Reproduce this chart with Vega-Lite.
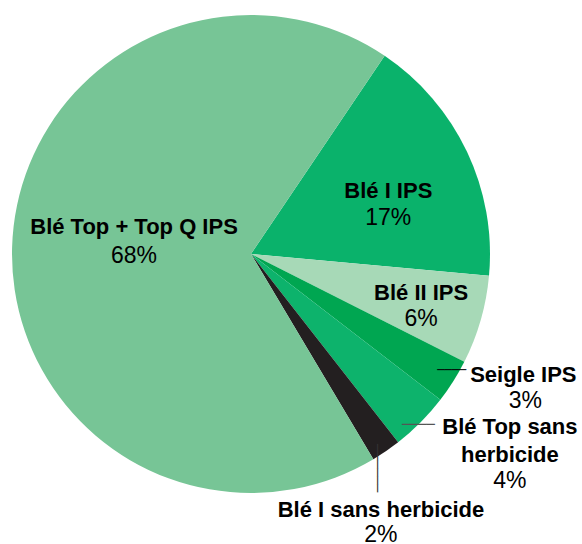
{
  "$schema": "https://vega.github.io/schema/vega-lite/v6.json",
  "width": 502,
  "height": 508,
  "autosize": "none",
  "padding": {"left": 0, "top": 0, "right": 80, "bottom": 36},
  "background": "#ffffff",
  "config": {"view": {"stroke": null}},
  "data": {
    "values": [
      {"rank": 1, "name": "Blé I IPS", "label": "Blé I IPS", "pct": 17, "pctLabel": "17%"},
      {"rank": 2, "name": "Blé II IPS", "label": "Blé II IPS", "pct": 6, "pctLabel": "6%"},
      {"rank": 3, "name": "Seigle IPS", "label": "Seigle IPS", "pct": 3, "pctLabel": "3%"},
      {"rank": 4, "name": "Blé Top sans herbicide", "label": ["Blé Top sans", "herbicide"], "pct": 4, "pctLabel": "4%"},
      {"rank": 5, "name": "Blé I sans herbicide", "label": "Blé I sans herbicide", "pct": 2, "pctLabel": "2%"},
      {"rank": 6, "name": "Blé Top + Top Q IPS", "label": "Blé Top + Top Q IPS", "pct": 68, "pctLabel": "68%"}
    ]
  },
  "encoding": {
    "theta": {"field": "pct", "type": "quantitative", "stack": true, "scale": {"range": [0.5934, 6.8766]}},
    "order": {"field": "rank", "type": "quantitative"}
  },
  "layer": [
    {
      "mark": {"type": "arc", "radius": 239},
      "encoding": {
        "color": {
          "field": "name", "type": "nominal", "legend": null,
          "scale": {
            "domain": ["Blé I IPS", "Blé II IPS", "Seigle IPS", "Blé Top sans herbicide", "Blé I sans herbicide", "Blé Top + Top Q IPS"],
            "range": ["#0AB26B", "#A7D9B7", "#00A651", "#0DB36C", "#231F20", "#77C596"]
          }
        }
      }
    },
    {
      "mark": {"type": "text", "radius": 117, "dy": -17, "font": "Liberation Sans", "fontWeight": "bold", "fontSize": 22, "baseline": "alphabetic", "align": "center", "color": "#000000"},
      "encoding": {"text": {"condition": {"test": "datum.name === 'Blé Top + Top Q IPS'", "field": "label"}, "value": ""}}
    },
    {
      "mark": {"type": "text", "radius": 117, "dy": 12, "font": "Liberation Sans", "fontSize": 23, "baseline": "alphabetic", "align": "center", "color": "#000000"},
      "encoding": {"text": {"condition": {"test": "datum.name === 'Blé Top + Top Q IPS'", "field": "pctLabel"}, "value": ""}}
    },
    {
      "mark": {"type": "text", "radius": 152, "dy": 9, "font": "Liberation Sans", "fontWeight": "bold", "fontSize": 22, "baseline": "alphabetic", "align": "center", "color": "#000000"},
      "encoding": {"text": {"condition": {"test": "datum.name === 'Blé I IPS'", "field": "label"}, "value": ""}}
    },
    {
      "mark": {"type": "text", "radius": 152, "dy": 36, "font": "Liberation Sans", "fontSize": 23, "baseline": "alphabetic", "align": "center", "color": "#000000"},
      "encoding": {"text": {"condition": {"test": "datum.name === 'Blé I IPS'", "field": "pctLabel"}, "value": ""}}
    },
    {
      "mark": {"type": "text", "radius": 177, "dy": -3, "font": "Liberation Sans", "fontWeight": "bold", "fontSize": 22, "baseline": "alphabetic", "align": "center", "color": "#000000"},
      "encoding": {"text": {"condition": {"test": "datum.name === 'Blé II IPS'", "field": "label"}, "value": ""}}
    },
    {
      "mark": {"type": "text", "radius": 177, "dy": 23, "font": "Liberation Sans", "fontSize": 23, "baseline": "alphabetic", "align": "center", "color": "#000000"},
      "encoding": {"text": {"condition": {"test": "datum.name === 'Blé II IPS'", "field": "pctLabel"}, "value": ""}}
    },
    {
      "mark": {"type": "text", "radius": 219, "dx": 87, "dy": 11, "font": "Liberation Sans", "fontWeight": "bold", "fontSize": 22, "baseline": "alphabetic", "align": "center", "color": "#000000"},
      "encoding": {"text": {"condition": {"test": "datum.name === 'Seigle IPS'", "field": "label"}, "value": ""}}
    },
    {
      "mark": {"type": "text", "radius": 219, "dx": 89, "dy": 37, "font": "Liberation Sans", "fontSize": 23, "baseline": "alphabetic", "align": "center", "color": "#000000"},
      "encoding": {"text": {"condition": {"test": "datum.name === 'Seigle IPS'", "field": "pctLabel"}, "value": ""}}
    },
    {
      "mark": {"type": "text", "radius": 219, "dx": 1, "dy": 3, "font": "DejaVu Sans Mono", "fontSize": 12, "baseline": "alphabetic", "align": "left", "color": "#000000"},
      "encoding": {"text": {"condition": {"test": "datum.name === 'Seigle IPS'", "value": "────"}, "value": ""}}
    },
    {
      "mark": {"type": "text", "radius": 238, "dx": 90, "dy": 12, "font": "Liberation Sans", "fontWeight": "bold", "fontSize": 22, "lineHeight": 28, "baseline": "alphabetic", "align": "center", "color": "#000000"},
      "encoding": {"text": {"condition": {"test": "datum.name === 'Blé Top sans herbicide'", "field": "label"}, "value": ""}}
    },
    {
      "mark": {"type": "text", "radius": 238, "dx": 90, "dy": 66, "font": "Liberation Sans", "fontSize": 23, "baseline": "alphabetic", "align": "center", "color": "#000000"},
      "encoding": {"text": {"condition": {"test": "datum.name === 'Blé Top sans herbicide'", "field": "pctLabel"}, "value": ""}}
    },
    {
      "mark": {"type": "text", "radius": 238, "dx": -18, "dy": 7, "font": "DejaVu Sans Mono", "fontSize": 13.7, "baseline": "alphabetic", "align": "left", "color": "#555555"},
      "encoding": {"text": {"condition": {"test": "datum.name === 'Blé Top sans herbicide'", "value": "────"}, "value": ""}}
    },
    {
      "mark": {"type": "text", "radius": 230, "dx": 0, "dy": 73, "font": "Liberation Sans", "fontWeight": "bold", "fontSize": 22, "baseline": "alphabetic", "align": "center", "color": "#000000"},
      "encoding": {"text": {"condition": {"test": "datum.name === 'Blé I sans herbicide'", "field": "label"}, "value": ""}}
    },
    {
      "mark": {"type": "text", "radius": 230, "dx": 0, "dy": 98, "font": "Liberation Sans", "fontSize": 23, "baseline": "alphabetic", "align": "center", "color": "#000000"},
      "encoding": {"text": {"condition": {"test": "datum.name === 'Blé I sans herbicide'", "field": "pctLabel"}, "value": ""}}
    },
    {
      "mark": {"type": "text", "radius": 228, "dx": 2, "dy": 6.7, "angle": 90, "font": "DejaVu Sans Mono", "fontSize": 13.3, "baseline": "alphabetic", "align": "left", "color": "#333333"},
      "encoding": {"text": {"condition": {"test": "datum.name === 'Blé I sans herbicide'", "value": "──────"}, "value": ""}}
    }
  ]
}
